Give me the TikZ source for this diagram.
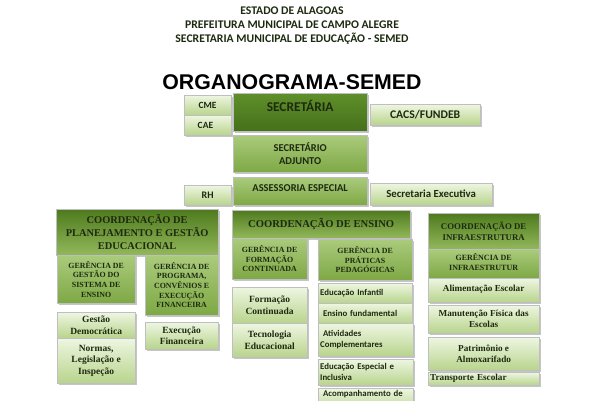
\documentclass[tikz,border=0pt]{standalone}
\usepackage{fontspec}
\setmainfont{Carlito}
\newfontfamily\serifb{Liberation Serif}
\newfontfamily\titlefont{Liberation Sans}
\usetikzlibrary{shadows}

\definecolor{darktop}{HTML}{5F8F2A}
\definecolor{darkbot}{HTML}{44701A}
\definecolor{coordtop}{HTML}{4E7A1E}
\definecolor{coordbot}{HTML}{92B85A}
\definecolor{midtop}{HTML}{AACB7C}
\definecolor{midbot}{HTML}{7EA845}
\definecolor{lighttop}{HTML}{EEF6E2}
\definecolor{lightbot}{HTML}{B8D48C}
\definecolor{inkgreen}{HTML}{1E2A10}

\begin{document}
\begin{tikzpicture}[x=1pt, y=-1pt,
  every node/.style = {shape=rectangle, anchor=north west, align=center,
    inner sep=1pt, text=inkgreen},
  orgbox/.style = {draw=black!25, line width=0.3pt,
    drop shadow={shadow xshift=1.5pt, shadow yshift=-1.5pt, opacity=0.45}},
  darkbox/.style = {orgbox, top color=darktop, bottom color=darkbot},
  coordbox/.style = {orgbox, top color=coordtop, bottom color=coordbot},
  midbox/.style = {orgbox, top color=midtop, bottom color=midbot},
  lightbox/.style = {orgbox, top color=lighttop, bottom color=lightbot},
  hdr/.style = {anchor=center, font=\bfseries\fontsize{11.7}{13}\selectfont},
  sans/.style = {/utils/exec={\pgfmathsetmacro\lsk{#1*1.2}},
    font=\bfseries\fontsize{#1}{\lsk}\selectfont},
  serif/.style = {/utils/exec={\pgfmathsetmacro\lsk{#1*1.22}},
    font=\serifb\bfseries\fontsize{#1}{\lsk}\selectfont}]
\useasboundingbox[fill=white] (0,0) rectangle (600,400);

% cabecalho
\node[hdr] (h1) at (292,11) {ESTADO DE ALAGOAS};
\node[hdr] (h2) at (292,25) {PREFEITURA MUNICIPAL DE CAMPO ALEGRE};
\node[hdr] (h3) at (292,39) {SECRETARIA MUNICIPAL DE EDUCAÇÃO - SEMED};
\node[anchor=center, text=black, font=\titlefont\bfseries\fontsize{21.3}{23}\selectfont]
  (title) at (292,82) {ORGANOGRAMA-SEMED};

% topo
\node[lightbox, sans=9.5, minimum width=47, minimum height=20] (cme) at (184,95) {CME};
\node[lightbox, sans=9.5, minimum width=47, minimum height=20] (cae) at (184,115) {\,CAE\hspace{6pt}};
\node[darkbox, sans=13.4, minimum width=134, minimum height=38, text depth=13pt] (sec) at (233,93) {SECRETÁRIA};
\node[lightbox, sans=11.7, minimum width=110, minimum height=21] (cacs) at (370,104) {CACS/FUNDEB};
\node[midbox, sans=10.5, minimum width=134, minimum height=37] (adj) at (233,135) {SECRETÁRIO\\ADJUNTO};
\node[midbox, sans=10.5, minimum width=134, minimum height=28, text depth=7pt] (asse) at (233,177) {ASSESSORIA ESPECIAL};
\node[lightbox, sans=10, minimum width=47, minimum height=20] (rh) at (184,185) {RH};
\node[lightbox, sans=10.8, minimum width=122, minimum height=22] (sexec) at (370,183) {Secretaria Executiva};

% planejamento e gestao
\node[coordbox, serif=10.4, minimum width=162, minimum height=46] (cpge) at (56,209) {COORDENAÇÃO DE\\PLANEJAMENTO E GESTÃO\\EDUCACIONAL};
\node[midbox, serif=7.9, minimum width=78, minimum height=48] (ggse) at (57,255) {GERÊNCIA DE\\GESTÃO DO\\SISTEMA DE\\ENSINO};
\node[midbox, serif=7.9, minimum width=73, minimum height=60] (gpce) at (145,255) {GERÊNCIA DE\\PROGRAMA,\\CONVÊNIOS E\\EXECUÇÃO\\FINANCEIRA};
\node[lightbox, serif=9.5, minimum width=78, minimum height=26] (gdem) at (57,312) {Gestão\\Democrática};
\node[lightbox, serif=9.5, minimum width=78, minimum height=45] (nlei) at (57,338) {Normas,\\Legislação e\\Inspeção};
\node[lightbox, serif=9.5, minimum width=73, minimum height=27] (exfin) at (145,322) {Execução\\Financeira};

% ensino
\node[coordbox, serif=10.6, minimum width=178, minimum height=28] (cens) at (232,210) {COORDENAÇÃO DE ENSINO};
\node[midbox, serif=7.9, minimum width=75, minimum height=41] (gfc) at (232,238) {GERÊNCIA DE\\FORMAÇÃO\\CONTINUADA};
\node[midbox, serif=7.9, minimum width=94, minimum height=41] (gpp) at (318,239) {GERÊNCIA DE\\PRÁTICAS\\PEDAGÓGICAS};
\node[lightbox, serif=9.5, minimum width=75, minimum height=36] (fcont) at (232,287) {Formação\\Continuada};
\node[lightbox, serif=9.5, minimum width=75, minimum height=34] (tedu) at (232,323) {Tecnologia\\Educacional};
\node[lightbox, sans=8.8, minimum width=94, minimum height=20, text width=90, align=left] (einf) at (318,283) {Educação Infantil};
\node[lightbox, sans=8.8, minimum width=94, minimum height=20, text width=90, align=left] (efund) at (318,303) {\ Ensino fundamental};
\node[lightbox, sans=8.8, minimum width=95, minimum height=33, text width=91, align=left] (ativ) at (318,323) {\ Atividades\\Complementares};
\node[lightbox, sans=8.8, minimum width=95, minimum height=26, text width=91, align=left] (eesp) at (318,359) {Educação Especial e\\Inclusiva};
\node[lightbox, sans=8.8, minimum width=95, minimum height=24, text width=91, align=left] (acomp) at (318,388) {\ Acompanhamento de\\\strut};

% infraestrutura
\node[coordbox, serif=8.8, minimum width=111, minimum height=36] (cinf) at (428,213) {COORDENAÇÃO DE\\INFRAESTRUTURA};
\node[midbox, serif=8, minimum width=111, minimum height=29, text depth=3pt] (ginf) at (428,249) {GERÊNCIA DE\\INFRAESTRUTUR};
\node[lightbox, serif=9.2, minimum width=111, minimum height=24, text depth=4pt] (alim) at (428,278) {Alimentação Escolar};
\node[lightbox, serif=9.2, minimum width=111, minimum height=28] (manu) at (428,305) {Manutenção Física das\\Escolas};
\node[lightbox, serif=9.2, minimum width=111, minimum height=33] (patr) at (428,337) {Patrimônio e\\Almoxarifado};
\node[lightbox, serif=9.2, minimum width=111, minimum height=13, text width=107, align=left] (transp) at (428,372) {Transporte Escolar};
\end{tikzpicture}
\end{document}
